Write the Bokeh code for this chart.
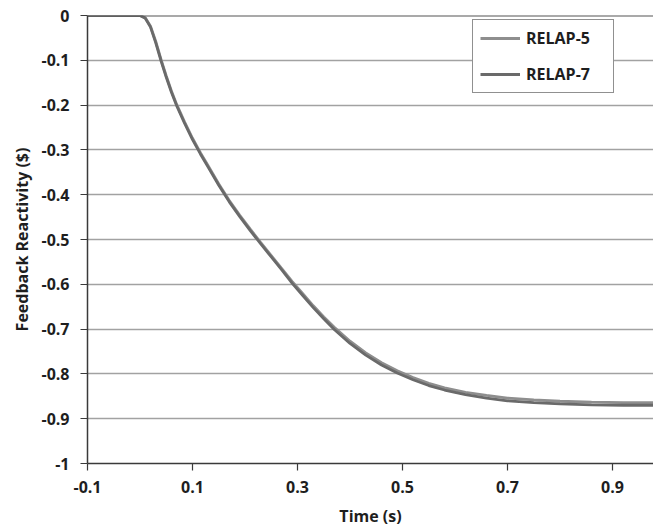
from bokeh.plotting import figure
from bokeh.models import FixedTicker, Legend, LegendItem, Range1d, Span
from bokeh.embed import file_html
from bokeh.resources import INLINE

# Data
time_s = [-0.1, 0.0, 0.01, 0.02, 0.03, 0.04, 0.05, 0.06, 0.07, 0.085, 0.10, 0.115, 0.13, 0.15, 0.17,
          0.19, 0.21, 0.23, 0.25, 0.27, 0.29, 0.31, 0.33, 0.35, 0.37, 0.40, 0.43, 0.46, 0.49, 0.52,
          0.55, 0.58, 0.62, 0.66, 0.70, 0.75, 0.80, 0.86, 0.92, 0.98]
relap5 = [0.0, 0.0, -0.005, -0.024, -0.058, -0.098, -0.135, -0.169, -0.199, -0.238, -0.274, -0.306,
          -0.336, -0.376, -0.413, -0.446, -0.477, -0.507, -0.536, -0.565, -0.594, -0.621, -0.648,
          -0.673, -0.696, -0.727, -0.753, -0.775, -0.793, -0.808, -0.821, -0.831, -0.841, -0.848,
          -0.854, -0.858, -0.861, -0.863, -0.864, -0.864]
relap7 = [0.0, 0.0, -0.006, -0.026, -0.061, -0.101, -0.138, -0.172, -0.202, -0.241, -0.277, -0.309,
          -0.339, -0.379, -0.416, -0.449, -0.480, -0.510, -0.539, -0.568, -0.598, -0.625, -0.652,
          -0.677, -0.701, -0.732, -0.758, -0.780, -0.798, -0.813, -0.826, -0.836, -0.846, -0.854,
          -0.860, -0.864, -0.867, -0.869, -0.870, -0.870]

x_ticks = [-0.1, 0.1, 0.3, 0.5, 0.7, 0.9]
y_ticks = [0, -0.1, -0.2, -0.3, -0.4, -0.5, -0.6, -0.7, -0.8, -0.9, -1]
y_tick_labels = ["0", "-0.1", "-0.2", "-0.3", "-0.4", "-0.5", "-0.6", "-0.7", "-0.8", "-0.9", "-1"]
x_tick_labels = ["-0.1", "0.1", "0.3", "0.5", "0.7", "0.9"]

FONT = "Open Sans"
FS = "16px"

p = figure(width=653, height=529, output_backend="svg", toolbar_location=None,
           x_range=Range1d(-0.1, 0.978), y_range=Range1d(-1.0, 0.0),
           min_border_left=87, min_border_top=15, min_border_bottom=65, min_border_right=0)
p.outline_line_color = None
p.background_fill_color = "white"

# Axes
for ax in (p.xaxis[0], p.yaxis[0]):
    ax.axis_line_color = "#3a3a3a"
    ax.axis_line_width = 1.5
    ax.major_tick_line_color = "#3a3a3a"
    ax.major_tick_line_width = 1.2
    ax.major_tick_out = 7
    ax.major_tick_in = 0
    ax.minor_tick_line_color = None
    ax.major_label_text_font = FONT
    ax.major_label_text_font_size = FS
    ax.major_label_text_font_style = "bold"
    ax.major_label_text_color = "#1e1e1e"
    ax.axis_label_text_font = FONT
    ax.axis_label_text_font_size = FS
    ax.axis_label_text_font_style = "bold"
    ax.axis_label_text_color = "#1e1e1e"

p.xaxis.ticker = FixedTicker(ticks=x_ticks)
p.xaxis.major_label_overrides = {t: l for t, l in zip(x_ticks, x_tick_labels)}
p.yaxis.ticker = FixedTicker(ticks=y_ticks)
p.yaxis.major_label_overrides = {t: l for t, l in zip(y_ticks, y_tick_labels)}
p.xaxis.axis_label = "Time (s)"
p.yaxis.axis_label = "Feedback Reactivity ($)"
p.xaxis.major_label_standoff = 10
p.yaxis.major_label_standoff = 11
p.xaxis.axis_label_standoff = 9
p.yaxis.axis_label_standoff = 5

p.xgrid.grid_line_color = None
p.ygrid.ticker = FixedTicker(ticks=y_ticks[1:-1])
p.ygrid.grid_line_color = "#a2a2a2"
p.ygrid.grid_line_width = 1.4
p.add_layout(Span(location=0, dimension="width", line_color="#555555", line_width=2))

r5 = p.line(time_s, relap5, line_color="#8e8e8e", line_width=2.8)
r7 = p.line(time_s, relap7, line_color="#6a6a6a", line_width=2.8)

legend = Legend(items=[LegendItem(label="RELAP-5", renderers=[r5]),
                       LegendItem(label="RELAP-7", renderers=[r7])],
                location=(385, 370))
legend.border_line_color = "#222222"
legend.border_line_width = 1.2
legend.background_fill_color = "white"
legend.background_fill_alpha = 1.0
legend.label_text_font = FONT
legend.label_text_font_size = FS
legend.label_text_font_style = "bold"
legend.label_text_color = "#1e1e1e"
legend.glyph_width = 40
legend.glyph_height = 20
legend.label_height = 20
legend.label_width = 80
legend.label_standoff = 6
legend.spacing = 14
legend.padding = 7
legend.margin = 0
p.add_layout(legend)

open("out.html", "w").write(file_html(p, INLINE))
